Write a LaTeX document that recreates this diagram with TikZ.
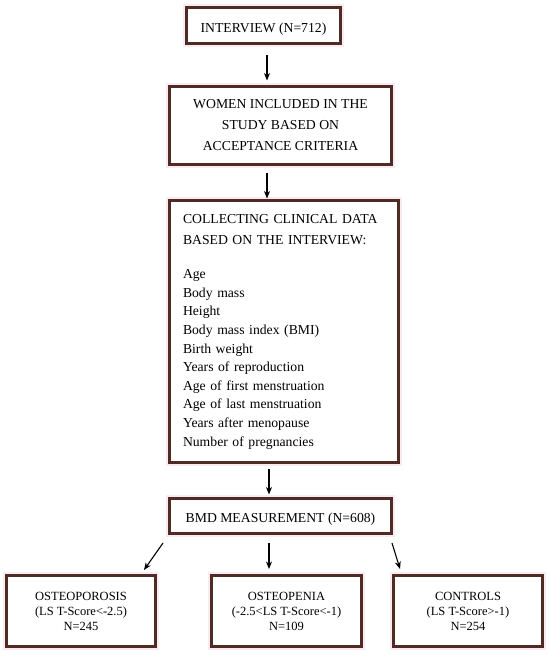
\documentclass[tikz,border=0pt]{standalone}
\usepackage{fontspec}
\setmainfont{Liberation Serif}
\usetikzlibrary{arrows.meta}
\definecolor{boxline}{HTML}{4E2C25}
\definecolor{halo}{HTML}{FBEAF1}
\tikzset{
  flowbox/.style={draw=boxline, line width=3pt, inner sep=0pt, align=center,
    preaction={draw=halo, line width=7pt}, fill=white},
  bigfont/.style={font=\fontsize{13.7}{21}\selectfont},
  smallfont/.style={font=\fontsize{12.5}{15}\selectfont},
  arr/.style={line width=1.1pt, -{Stealth[length=7.5pt,width=6pt]}}
}
\begin{document}
\begin{tikzpicture}[x=1pt,y=-1pt]
\useasboundingbox (0,0) rectangle (550,656);
\node[flowbox, bigfont, minimum width=154, minimum height=36, text height=13pt, text depth=0pt] (interview) at (263.5,25.5) {INTERVIEW (N=712)};
\node[flowbox, bigfont, minimum width=222, minimum height=78] (women) at (280.5,125.5) {WOMEN INCLUDED IN THE\\STUDY BASED ON\\ACCEPTANCE CRITERIA};
\node[flowbox, font=\fontsize{13.7}{18.6}\selectfont, minimum width=229, minimum height=262, inner xsep=13.5pt, text width=202pt, align=left] (clinical) at (284,331.5) {COLLECTING CLINICAL DATA\\[3.1pt]BASED ON THE INTERVIEW:\\[15.4pt]Age\\Body mass\\Height\\Body mass index (BMI)\\Birth weight\\Years of reproduction\\Age of first menstruation\\Age of last menstruation\\Years after menopause\\Number of pregnancies};
\node[flowbox, bigfont, minimum width=222, minimum height=35, text height=13pt, text depth=0pt] (bmd) at (280.5,516) {BMD MEASUREMENT (N=608)};
\node[flowbox, smallfont, minimum width=149, minimum height=71] (osteoporosis) at (81,611) {OSTEOPOROSIS\\(LS T-Score<-2.5)\\N=245};
\node[flowbox, smallfont, minimum width=150, minimum height=71] (osteopenia) at (286.5,611) {OSTEOPENIA\\(-2.5<LS T-Score<-1)\\N=109};
\node[flowbox, smallfont, minimum width=149, minimum height=71] (controls) at (468,611) {CONTROLS\\(LS T-Score>-1)\\N=254};
\coordinate (a1s) at (267,55);  \coordinate (a1e) at (267,80.5);
\coordinate (a2s) at (267,173); \coordinate (a2e) at (267,198.5);
\coordinate (a3s) at (269,469); \coordinate (a3e) at (269,494.5);
\coordinate (a4s) at (163,543); \coordinate (a4e) at (144,570);
\coordinate (a5s) at (269,543); \coordinate (a5e) at (269,569);
\coordinate (a6s) at (392,543); \coordinate (a6e) at (400,569);
\draw[arr] (a1s) -- (a1e);
\draw[arr] (a2s) -- (a2e);
\draw[arr] (a3s) -- (a3e);
\draw[arr] (a4s) -- (a4e);
\draw[arr] (a5s) -- (a5e);
\draw[arr] (a6s) -- (a6e);
\end{tikzpicture}
\end{document}
